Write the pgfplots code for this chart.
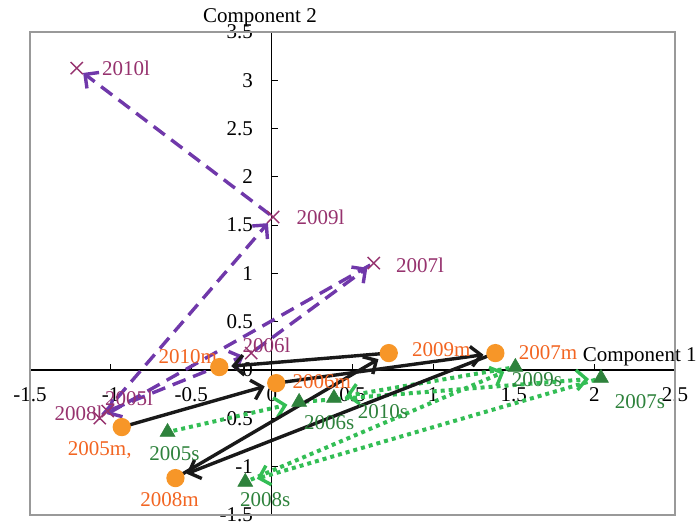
\documentclass[border=0pt]{standalone}
\usepackage{pgfplots}
\pgfplotsset{compat=1.18}
\usepackage{fontspec}
\setmainfont{Liberation Serif}
\usetikzlibrary{arrows.meta}
\definecolor{lcross}{RGB}{150,50,110}
\definecolor{larrow}{RGB}{112,56,170}
\definecolor{mdot}{RGB}{247,150,40}
\definecolor{mtext}{RGB}{242,101,34}
\definecolor{sdot}{RGB}{46,130,60}
\definecolor{sarrow}{RGB}{51,190,85}
\begin{document}
\begin{tikzpicture}[font=\fontsize{10.5}{12}\selectfont]
\begin{axis}[
  width=322.5pt, height=241.5pt, scale only axis,
  xmin=-1.5, xmax=2.5, ymin=-1.5, ymax=3.5,
  axis lines=middle,
  axis line style={-, black, line width=0.6pt},
  xtick={-1.5,-1,-0.5,0,0.5,1,1.5,2,2.5},
  ytick={-1.5,-1,-0.5,0,0.5,1,1.5,2,2.5,3,3.5},
  hide obscured x ticks=false, hide obscured y ticks=false,
  tick align=inside, major tick length=3pt,
  tick style={black, line width=0.5pt},
  /pgf/number format/assume math mode=true,
  xticklabel style={anchor=north, yshift=-5pt, font=\fontsize{10.5}{12}\selectfont},
  yticklabel style={anchor=east, xshift=-6pt, font=\fontsize{10.5}{12}\selectfont},
  clip=false,
  every axis plot/.append style={line width=1.7pt},
]
\coordinate (bl) at (rel axis cs:0,0);
\coordinate (tr) at (rel axis cs:1,1);
\draw[line width=1pt, gray!80] (rel axis cs:0,0) rectangle (rel axis cs:1,1);

% l series arrows (purple dashed)
\pgfplotsset{larr/.style={larrow, dash pattern=on 7pt off 4pt, -{Straight Barb[length=5pt,width=10pt]}, shorten >=4pt, shorten <=2pt}}
\addplot[larr] coordinates {(-1.018,-0.424) (-0.128,0.176)};
\addplot[larr] coordinates {(-0.128,0.176) (0.632,1.108)};
\addplot[larr] coordinates {(0.632,1.108) (-1.067,-0.497)};
\addplot[larr] coordinates {(-1.067,-0.497) (0.008,1.584)};
\addplot[larr] coordinates {(0.008,1.584) (-1.210,3.126)};

% s series arrows (green dotted)
\pgfplotsset{sarr/.style={sarrow, line width=2pt, dash pattern=on 2pt off 2pt, -{Straight Barb[length=5pt,width=10pt,line width=1.7pt]}, shorten >=6pt, shorten <=3pt}}
\addplot[sarr] coordinates {(-0.647,-0.642) (0.169,-0.331)};
\addplot[sarr] coordinates {(0.169,-0.331) (2.041,-0.083)};
\addplot[sarr] coordinates {(2.041,-0.083) (-0.165,-1.159)};
\addplot[sarr] coordinates {(-0.165,-1.159) (1.510,0.031)};
\addplot[sarr] coordinates {(1.510,0.031) (0.385,-0.290)};

% m series arrows (black solid)
\pgfplotsset{marr/.style={black!90, -{Straight Barb[length=5pt,width=10pt]}, shorten >=6pt, shorten <=3pt}}
\addplot[marr] coordinates {(-0.931,-0.590) (0.027,-0.135)};
\addplot[marr] coordinates {(0.027,-0.135) (1.386,0.176)};
\addplot[marr] coordinates {(1.386,0.176) (-0.598,-1.118)};
\addplot[marr] coordinates {(-0.598,-1.118) (0.725,0.176)};
\addplot[marr] coordinates {(0.725,0.176) (-0.326,0.031)};

% markers
\addplot[only marks, mark=x, mark size=4.3pt, lcross, line width=0.7pt] coordinates {
(-1.018,-0.424) (-0.128,0.176) (0.632,1.108) (-1.067,-0.497) (0.008,1.584) (-1.210,3.126)};
\addplot[only marks, mark=*, mark size=3.7pt, mdot, draw=mdot] coordinates {
(-0.931,-0.590) (0.027,-0.135) (1.386,0.176) (-0.598,-1.118) (0.725,0.176) (-0.326,0.031)};
\addplot[only marks, mark=triangle*, mark size=4.3pt, sdot, draw=sdot, line width=0.3pt] coordinates {
(-0.647,-0.642) (0.169,-0.331) (2.041,-0.083) (-0.165,-1.159) (1.510,0.031) (0.385,-0.290)};

% labels
\begin{scope}[every node/.style={inner sep=0pt}]
\node[lcross, anchor=west, xshift=12.5pt] at (axis cs:-1.210,3.126) {2010l};
\node[lcross, anchor=west, xshift=11.5pt] at (axis cs:0.008,1.584) {2009l};
\node[lcross, anchor=west, xshift=11pt, yshift=-1pt] at (axis cs:0.632,1.108) {2007l};
\node[lcross, anchor=west, xshift=-4.5pt, yshift=4pt] at (axis cs:-0.128,0.176) {2006l};
\node[lcross, anchor=west, xshift=-1.5pt, yshift=6.5pt] at (axis cs:-1.018,-0.424) {2005l};
\node[lcross, anchor=east, xshift=1.5pt, yshift=2.5pt] at (axis cs:-1.067,-0.497) {2008l};

\node[mtext, xshift=-11pt, yshift=-11.5pt] at (axis cs:-0.931,-0.590) {2005m,};
\node[mtext, anchor=west, xshift=8pt, yshift=1pt] at (axis cs:0.027,-0.135) {2006m};
\node[mtext, anchor=west, xshift=11.5pt] at (axis cs:1.386,0.176) {2007m};
\node[mtext, xshift=-3pt, yshift=-11pt] at (axis cs:-0.598,-1.118) {2008m};
\node[mtext, anchor=west, xshift=11.5pt, yshift=1.5pt] at (axis cs:0.725,0.176) {2009m};
\node[mtext, anchor=east, xshift=-1pt, yshift=5pt] at (axis cs:-0.326,0.031) {2010m};

\node[sdot, xshift=3.5pt, yshift=-11pt] at (axis cs:-0.647,-0.642) {2005s};
\node[sdot, xshift=15pt, yshift=-10.5pt] at (axis cs:0.169,-0.331) {2006s};
\node[sdot, xshift=19.5pt, yshift=-12pt] at (axis cs:2.041,-0.083) {2007s};
\node[sdot, xshift=10pt, yshift=-9pt] at (axis cs:-0.165,-1.159) {2008s};
\node[sdot, anchor=west, xshift=-2pt, yshift=-6.5pt] at (axis cs:1.510,0.031) {2009s};
\node[sdot, xshift=24.5pt, yshift=-7pt] at (axis cs:0.385,-0.290) {2010s};

\node[black, anchor=base east, xshift=11pt, yshift=4.5pt] at (axis cs:2.5,0) {Component 1};
\node[black, anchor=base, xshift=-6pt, yshift=4.5pt] at (axis cs:0,3.5) {Component 2};
\end{scope}
\end{axis}
\pgfresetboundingbox
\path ([xshift=-15pt,yshift=-4.5pt]bl) rectangle ([xshift=12.5pt,yshift=16pt]tr);
\end{tikzpicture}
\end{document}
